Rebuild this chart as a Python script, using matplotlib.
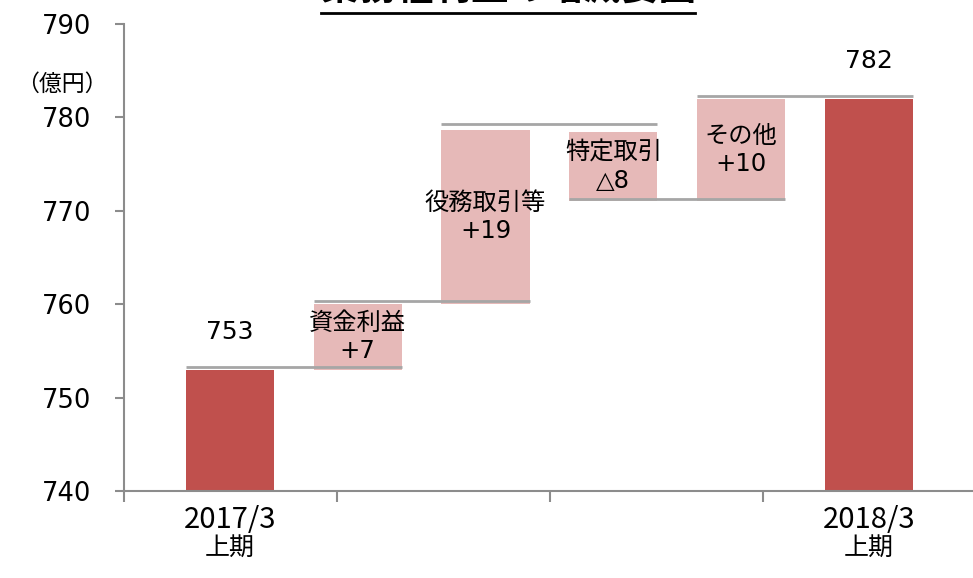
import numpy as np
import matplotlib
matplotlib.use("Agg")
import matplotlib.pyplot as plt
from matplotlib.lines import Line2D

plt.rcParams['font.family'] = ['DejaVu Sans', 'Noto Sans CJK JP']

# waterfall data (億円)
labels = ['2017/3\n上期', '資金利益', '役務取引等', '特定取引', 'その他', '2018/3\n上期']
bottoms = [740, 753, 760, 771, 771, 740]
tops = [753, 760, 778.7, 778.4, 782, 782]
deltas = ['', '+7', '+19', '△8', '+10', '']
totals = [753, None, None, None, None, 782]
levels = [753, 760, 779, 771, 782]   # connector line levels

dark = '#C0504D'
pink = '#E6B9B8'
gray = '#8C8C8C'
line_gray = '#A6A6A6'
cjk = ['Noto Sans CJK JP', 'DejaVu Sans']

fig = plt.figure(figsize=(9.73, 5.78), dpi=100)
ax = fig.add_axes([124 / 973, 1 - 491 / 578, 849 / 973, 467 / 578])

x = np.arange(len(labels))
w = 0.69
heights = np.array(tops) - np.array(bottoms)
colors = [dark, pink, pink, pink, pink, dark]
ax.bar(x, heights, bottom=bottoms, width=w, color=colors, zorder=2)

# connector lines
for i, lv in enumerate(levels):
    ax.plot([x[i] - w / 2, x[i + 1] + w / 2], [lv + 0.3, lv + 0.3],
            color=line_gray, lw=2, zorder=3, solid_capstyle='butt')

# labels inside the step bars
for i in range(1, 5):
    ax.text(x[i], (bottoms[i] + tops[i]) / 2, labels[i] + '\n' + deltas[i],
            ha='center', va='center', fontsize=17.5, linespacing=1.25, color='black', zorder=4)

# total labels
for i in (0, 5):
    ax.text(x[i], tops[i] + 4, str(totals[i]), ha='center', va='center', fontsize=18)

ax.set_ylim(740, 790)
ax.set_yticks(np.arange(740, 791, 10))
x_left = -0.829
ax.set_xlim(x_left, 5.814)
ax.set_xticks([x_left + k * 5 / 3 for k in range(4)])
ax.set_xticklabels([])
ax.tick_params(axis='y', labelsize=18.5, length=6.5, width=1.5, color=gray, pad=17)
ax.tick_params(axis='x', length=8, width=1.5, color=gray)

for s in ('top', 'right'):
    ax.spines[s].set_visible(False)
for s in ('left', 'bottom'):
    ax.spines[s].set_color(gray)
    ax.spines[s].set_linewidth(1.5)

# category labels for the total bars
for i in (0, 5):
    parts = labels[i].split('\n')
    ax.annotate(parts[0], (x[i], 0), xycoords=('data', 'axes fraction'),
                xytext=(0, -29), textcoords='offset pixels', ha='center', va='center',
                fontsize=21, family=cjk)
    ax.annotate(parts[1], (x[i], 0), xycoords=('data', 'axes fraction'),
                xytext=(0, -57), textcoords='offset pixels', ha='center', va='center',
                fontsize=18, family=cjk)

fig.text(62 / 973, 1 - 84 / 578, '（億円）', ha='center', va='center', fontsize=16.5, family=cjk)

# title, cut off at the top edge
fig.text(508 / 973, 1 + 0.5 / 578, '業務粗利益の増減要因', ha='center', va='baseline',
         fontsize=27, fontweight='bold', family=cjk)
fig.add_artist(Line2D([321 / 973, 695 / 973], [1 - 12.5 / 578, 1 - 12.5 / 578],
                      transform=fig.transFigure, color='black', lw=2))

fig.savefig('out.png', dpi=100)
